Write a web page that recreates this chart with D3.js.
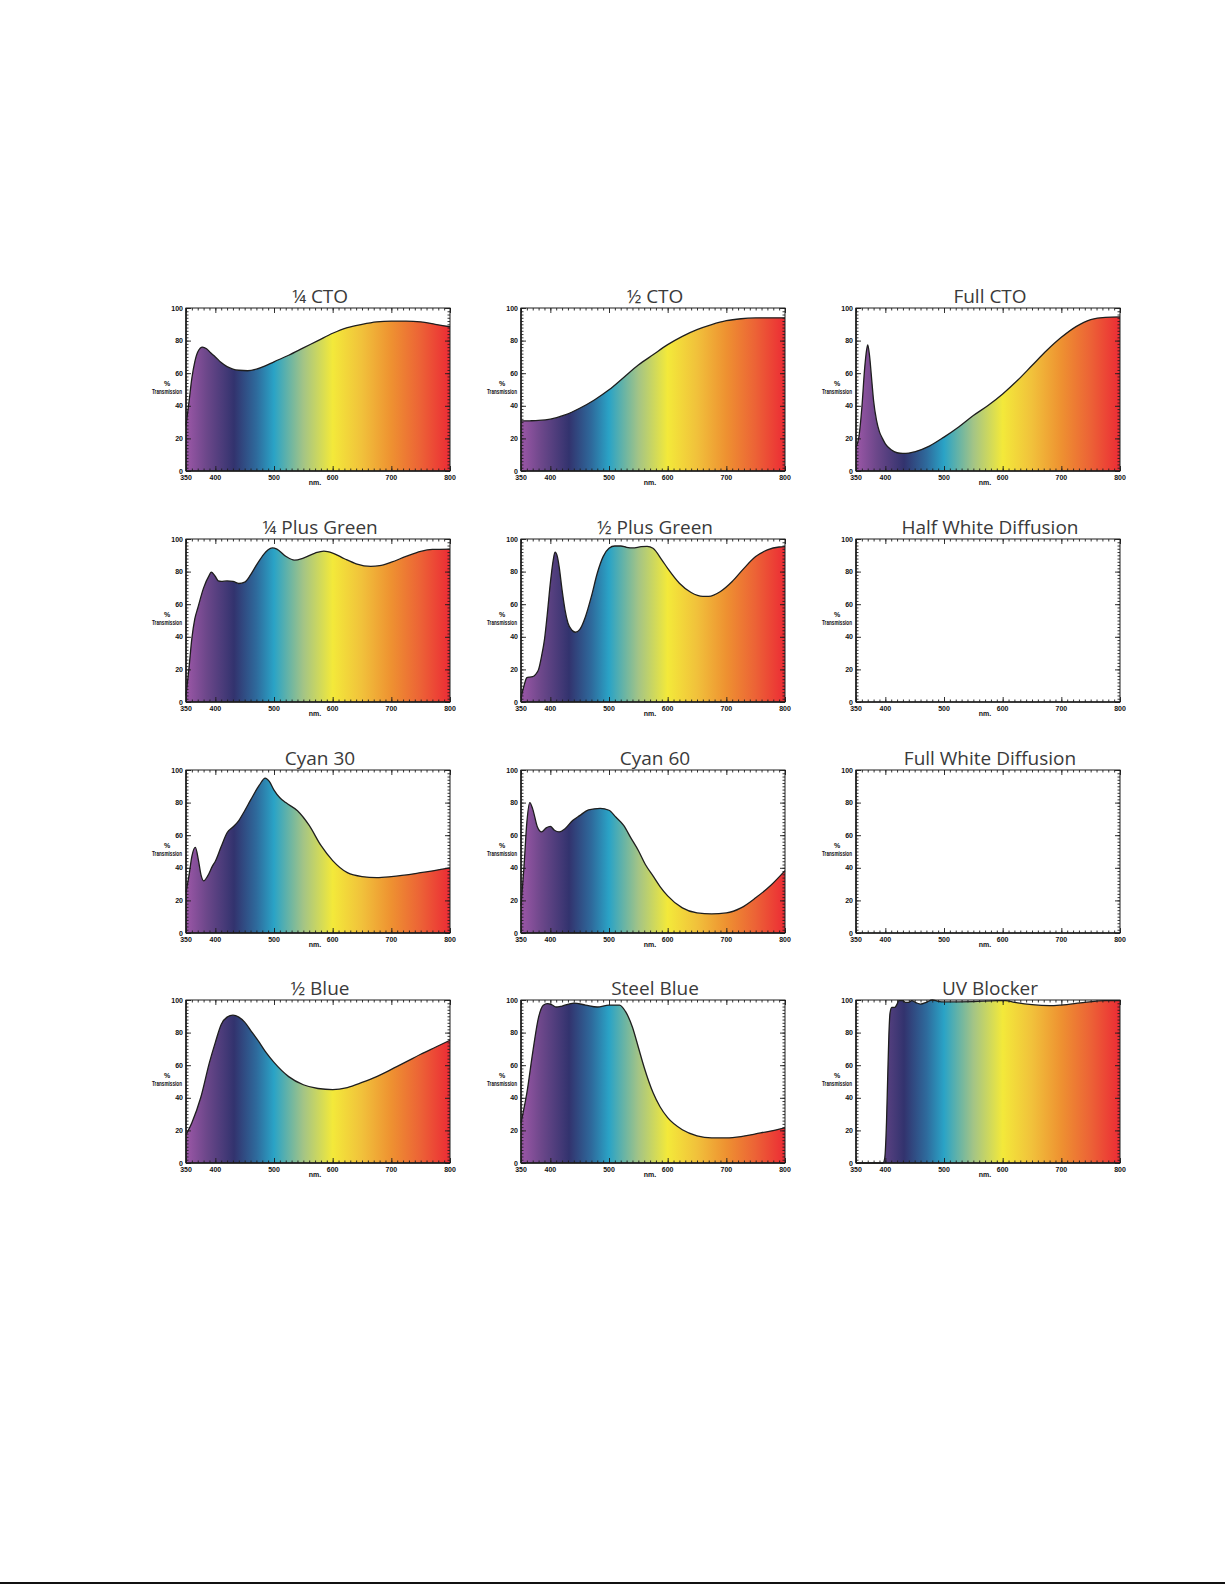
<!DOCTYPE html>
<html>
<head>
<meta charset="utf-8">
<script src="https://cdn.jsdelivr.net/npm/d3@7"></script>
<style>
  html, body { margin: 0; padding: 0; background: #fff; }
  .tick-label { font-family: "Liberation Sans", Arial, sans-serif; font-weight: bold; font-size: 7px; fill: #111; }
  .panel-title { font-family: "Open Sans", "Noto Sans", sans-serif; font-size: 19px; fill: #3a3a3a; }
</style>
</head>
<body>
<svg id="chart" width="1225" height="1585"></svg>
<script>
// spectrum transmission curves: [nm, % transmission]
const quarterCto = [[350,28],[355,42],[360,57],[365,67],[370,73],[378,76],[385,75],[392,72.5],[400,70],[410,66.5],[420,64],[430,62.5],[440,61.8],[455,61.5],[470,62.5],[485,64.5],[500,67],[525,71],[550,75.5],[575,80],[600,84.5],[625,88],[650,90],[675,91.5],[700,92],[725,92],[750,91.5],[775,90],[800,88.5]];
const halfCto = [[350,30.7],[365,30.8],[380,31],[400,31.8],[425,34.4],[450,38.5],[475,43.6],[500,49.8],[525,57.4],[550,65],[575,71.3],[600,77.5],[625,82.6],[650,86.7],[675,89.8],[700,92.2],[725,93.4],[750,93.9],[775,94],[800,94]];
const fullCto = [[350,14.7],[355,21],[360,39],[365,64],[368,74],[370,77.3],[373,71],[377,55],[380,43],[385,31],[390,24],[395,20],[400,16.7],[410,13],[420,11.2],[430,10.8],[440,11],[450,11.8],[475,15.3],[500,20.8],[525,27],[550,34],[575,40.2],[600,47.3],[625,55.5],[650,64.7],[675,73.9],[700,82],[725,88.6],[750,92.9],[775,94.3],[800,94.5]];
const quarterPlusGreen = [[350,4],[355,20.5],[360,39],[365,51],[370,57.5],[380,70],[390,78],[393,79.7],[400,77],[405,74.3],[410,74],[420,74.3],[430,74],[440,72.7],[450,73.5],[460,78],[470,84],[480,89.4],[490,93.4],[497,94.5],[505,93.8],[520,89.4],[535,87],[550,88.3],[570,91.4],[585,92.6],[600,91.4],[620,87.9],[640,84.8],[665,83.2],[680,83.6],[700,85.8],[725,89.3],[750,92.4],[770,93.6],[800,93.8]];
const halfPlusGreen = [[350,2.6],[355,9.8],[360,14.9],[365,15.3],[370,15.5],[375,17],[380,20],[385,28],[390,38.3],[395,54.6],[400,72.9],[405,87.2],[408,92],[412,89.2],[415,83],[420,68.8],[425,56.6],[430,48.5],[437,44],[443,42.8],[450,44.4],[460,52.5],[470,64.8],[480,79],[490,89.2],[500,94.3],[510,95.7],[520,95.7],[530,94.9],[540,94.5],[555,95.3],[565,95.5],[575,94.3],[590,87.2],[600,82],[620,72.9],[640,67.2],[660,64.8],[670,64.8],[690,67.8],[710,73.9],[730,82],[750,89.2],[770,93.3],[790,95.1],[800,95.3]];
const halfWhiteDiffusion = [];
const cyan30 = [[350,25],[355,35],[360,47],[366,52.5],[371,45],[376,35],[380,32],[387,35],[395,41],[400,44],[410,53],[420,61.5],[430,65],[440,69],[450,75],[460,81.5],[475,90.7],[485,95],[492,93],[500,87.7],[510,83],[520,80],[540,75],[560,66],[580,53.7],[600,44.4],[625,37],[650,34.6],[675,34],[700,34.6],[750,37],[800,40]];
const cyan60 = [[350,16.7],[355,40],[360,68],[365,80],[370,76],[378,65],[385,62],[393,64.5],[400,65.4],[407,63],[415,62],[425,64],[438,69],[450,72],[465,75.5],[485,76.5],[500,75.3],[512,71],[525,66],[537,58.5],[550,50.6],[562,42],[575,35],[587,28.5],[600,22.8],[625,15.4],[650,12.3],[675,11.7],[700,12.3],[725,15.4],[750,21.6],[775,29],[800,38.3]];
const fullWhiteDiffusion = [];
const halfBlue = [[350,17.3],[360,24.7],[375,40],[390,61.7],[400,74],[410,85],[420,89.5],[430,90.7],[440,89.5],[450,86.4],[462,80.5],[475,74],[487,67.5],[500,61.7],[525,53],[550,48],[575,45.7],[600,45],[625,46.3],[650,49.4],[675,53],[700,57.4],[725,62],[750,66.7],[775,71],[800,75.3]];
const steelBlue = [[350,24.7],[360,43],[370,67.9],[380,89.5],[388,96.8],[395,97.8],[402,97.2],[410,95.7],[420,96.3],[440,98.1],[460,96.9],[480,95.7],[500,96.9],[518,96.9],[528,93],[540,83.3],[550,71],[560,58.6],[575,43.2],[587,34.5],[600,27.8],[625,20.4],[650,16.7],[675,15.4],[700,15.4],[725,16.2],[750,17.9],[775,19.6],[800,21.6]];
const uvBlocker = [[350,0],[396,0],[399,3],[402,25],[404,52],[406,78],[408,92],[411,95.5],[416,95.5],[420,97.5],[423,99.6],[430,99.6],[434,98.6],[440,98.6],[445,99.6],[452,98.4],[460,97.5],[470,98.6],[480,100],[490,99.2],[500,98.8],[550,99],[590,99.6],[605,99.6],[620,98.6],[650,97.1],[680,96.5],[700,96.9],[740,98.6],[775,99.6],[800,99.6]];

const panelTitles = ['¼ CTO', '½ CTO', 'Full CTO', '¼ Plus Green', '½ Plus Green', 'Half White Diffusion',
                     'Cyan 30', 'Cyan 60', 'Full White Diffusion', '½ Blue', 'Steel Blue', 'UV Blocker'];
const panelSeries = [quarterCto, halfCto, fullCto, quarterPlusGreen, halfPlusGreen, halfWhiteDiffusion,
                     cyan30, cyan60, fullWhiteDiffusion, halfBlue, steelBlue, uvBlocker];

const xTickLabels = [350, 400, 500, 600, 700, 800];
const yTickLabels = [0, 20, 40, 60, 80, 100];

// colour of the fill along the wavelength axis
const spectrumStops = [[350,'#9c57a7'],[385,'#6c478a'],[432,'#32336e'],[470,'#2e6a9c'],[500,'#2aa3c6'],[550,'#a3c486'],[600,'#f3e93a'],[650,'#f1c13b'],[700,'#ee9131'],[750,'#ec6236'],[800,'#ec2b35']];

const svg = d3.select('#chart');
const colLeft = [186, 521, 856];
const rowTop = [308, 539, 770, 1000];
const width = 264;
const height = 163;

const x = d3.scaleLinear().domain([350, 800]).range([0, width]);
const y = d3.scaleLinear().domain([0, 100]).range([height, 0]);

// one gradient, in each panel's own user space
const defs = svg.append('defs');
const grad = defs.append('linearGradient')
    .attr('id', 'spectrum')
    .attr('gradientUnits', 'userSpaceOnUse')
    .attr('x1', x(350)).attr('x2', x(800))
    .attr('y1', 0).attr('y2', 0);
spectrumStops.forEach(s => {
    grad.append('stop')
        .attr('offset', (x(s[0]) / width * 100) + '%')
        .attr('stop-color', s[1]);
});

const area = d3.area()
    .x(d => x(d[0]))
    .y0(y(0))
    .y1(d => y(d[1]))
    .curve(d3.curveMonotoneX);

const line = d3.line()
    .x(d => x(d[0]))
    .y(d => y(d[1]))
    .curve(d3.curveMonotoneX);

const xMinor = d3.range(350, 801, 10);
const yMinor = d3.range(0, 101, 2);

function drawPanel(i) {
    const g = svg.append('g')
        .attr('transform', `translate(${colLeft[i % 3]},${rowTop[Math.floor(i / 3)]})`);
    const data = panelSeries[i];

    if (data.length) {
        g.append('path')
            .datum(data)
            .attr('fill', 'url(#spectrum)')
            .attr('d', area);
        g.append('path')
            .datum(data)
            .attr('fill', 'none')
            .attr('stroke', '#1e1e1e')
            .attr('stroke-width', 1.3)
            .attr('d', line);
    }

    // minor and major ticks on all four sides, pointing in
    const tickStyle = sel => sel.call(s => s.select('.domain').remove())
        .selectAll('line').attr('stroke', '#1e1e1e').attr('stroke-width', 0.9);

    g.append('g').attr('transform', `translate(0,${height})`)
        .call(d3.axisBottom(x).tickValues(xMinor).tickSize(-2.5).tickFormat('')).call(tickStyle);
    g.append('g').attr('transform', `translate(0,${height})`)
        .call(d3.axisBottom(x).tickValues(xTickLabels).tickSize(-5).tickFormat('')).call(tickStyle);
    g.append('g')
        .call(d3.axisTop(x).tickValues(xMinor).tickSize(-2.5).tickFormat('')).call(tickStyle);
    g.append('g')
        .call(d3.axisTop(x).tickValues(xTickLabels).tickSize(-5).tickFormat('')).call(tickStyle);
    g.append('g')
        .call(d3.axisLeft(y).tickValues(yMinor).tickSize(-2.5).tickFormat('')).call(tickStyle);
    g.append('g')
        .call(d3.axisLeft(y).tickValues(yTickLabels).tickSize(-5).tickFormat('')).call(tickStyle);
    g.append('g').attr('transform', `translate(${width},0)`)
        .call(d3.axisRight(y).tickValues(yMinor).tickSize(-2.5).tickFormat('')).call(tickStyle);
    g.append('g').attr('transform', `translate(${width},0)`)
        .call(d3.axisRight(y).tickValues(yTickLabels).tickSize(-5).tickFormat('')).call(tickStyle);

    // frame
    g.append('rect')
        .attr('width', width).attr('height', height)
        .attr('fill', 'none').attr('stroke', '#1e1e1e').attr('stroke-width', 1);
    g.append('line')
        .attr('x1', 0).attr('x2', width).attr('y1', height).attr('y2', height)
        .attr('stroke', '#1e1e1e').attr('stroke-width', 1.6);
    g.append('line')
        .attr('x1', 0).attr('x2', 0).attr('y1', 0).attr('y2', height)
        .attr('stroke', '#1e1e1e').attr('stroke-width', 1.6);

    // tick labels
    g.selectAll('.xlab').data(xTickLabels).enter().append('text')
        .attr('class', 'tick-label')
        .attr('x', d => x(d)).attr('y', height + 9)
        .attr('text-anchor', 'middle')
        .text(d => d);
    g.selectAll('.ylab').data(yTickLabels).enter().append('text')
        .attr('class', 'tick-label')
        .attr('x', -3).attr('y', d => y(d) + 2.5)
        .attr('text-anchor', 'end')
        .text(d => d);

    g.append('text').attr('class', 'tick-label')
        .attr('x', width / 2 - 3).attr('y', height + 14)
        .attr('text-anchor', 'middle').text('nm.');
    g.append('text').attr('class', 'tick-label')
        .attr('x', -19).attr('y', 78)
        .attr('text-anchor', 'middle').text('%');
    g.append('text').attr('class', 'tick-label')
        .attr('x', -34).attr('y', 86)
        .attr('textLength', 30).attr('lengthAdjust', 'spacingAndGlyphs')
        .style('font-size', '6.5px').text('Transmission');

    g.append('text')
        .attr('class', 'panel-title')
        .attr('x', width / 2 + 2).attr('y', -5.5)
        .attr('text-anchor', 'middle')
        .text(panelTitles[i]);
}

panelTitles.forEach((t, i) => drawPanel(i));

// page rule at the bottom
svg.append('line')
    .attr('x1', 0).attr('x2', 1225).attr('y1', 1583).attr('y2', 1583)
    .attr('stroke', '#111').attr('stroke-width', 2);
</script>
</body>
</html>
